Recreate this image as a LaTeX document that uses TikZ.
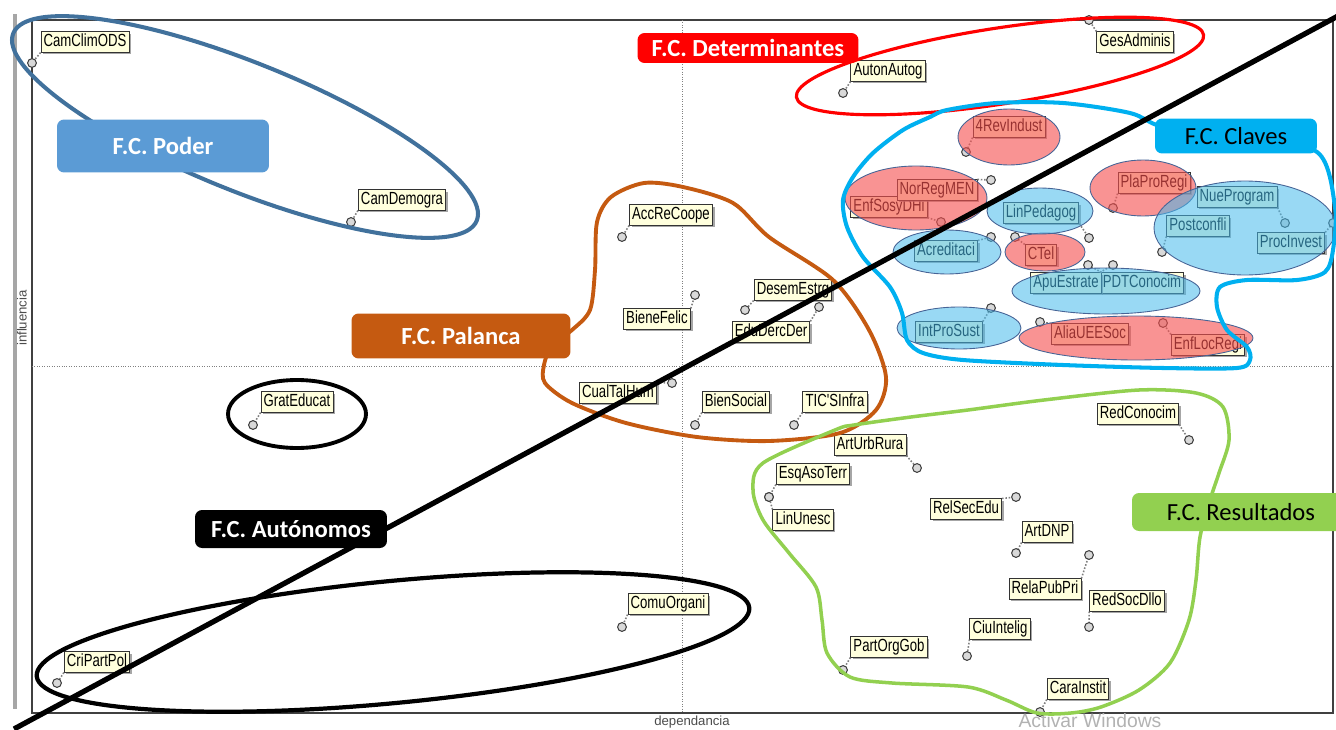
\documentclass[tikz,border=0pt]{standalone}
\usepackage{fontspec}
\setmainfont{Carlito}
\newfontfamily\varfont[FakeStretch=0.75]{Liberation Sans}
\newfontfamily\axfont{Liberation Sans}
\usetikzlibrary{shadows}

\definecolor{podfill}{RGB}{91,155,213}
\definecolor{podline}{RGB}{65,113,156}
\definecolor{detred}{RGB}{255,0,0}
\definecolor{clavcyan}{RGB}{0,176,240}
\definecolor{palbrown}{RGB}{197,90,17}
\definecolor{resgreen}{RGB}{146,208,80}
\definecolor{varcream}{RGB}{255,255,221}
\definecolor{ovred}{RGB}{245,80,80}
\definecolor{ovblue}{RGB}{70,185,235}
\definecolor{ovline}{RGB}{70,100,150}

\begin{document}
\begin{tikzpicture}[x=0.02cm, y=-0.02cm,
  var/.style={draw=black!80, fill=varcream, line width=0.5pt, inner xsep=1.5pt, inner ysep=1pt,
    text height=7.5pt, text depth=2pt, font=\varfont\fontsize{10}{11}\selectfont,
    drop shadow={shadow xshift=1.2pt, shadow yshift=-1.2pt, fill=black!50, opacity=0.7}},
  leader/.style={gray, densely dotted, line width=0.9pt},
  pt/.style={circle, solid, draw=black!75, fill=black!15, line width=0.6pt, inner sep=0pt, minimum size=5pt},
  grp/.style={rounded corners=4pt, inner sep=0pt, font=\fontsize{14}{16}\selectfont},
  grpb/.style={grp, text=white, font=\fontsize{14}{16}\selectfont\bfseries},
  redov/.style={fill=ovred, fill opacity=0.62, draw=ovline, line width=0.5pt},
  blueov/.style={fill=ovblue, fill opacity=0.55, draw=ovline, line width=0.5pt}]
\useasboundingbox (0,0) rectangle (1336,730);

% frame and axes
\draw[gray!70, line width=2pt] (15,14) -- (15,709);
\draw[black!75, line width=0.8pt] (32,20) -- (1333,20) -- (1333,713) -- (32,713) -- cycle;
\draw[gray, densely dotted, line width=0.4pt] (682,20) -- (682,713);
\draw[gray, densely dotted, line width=0.4pt] (32,366) -- (1333,366);
\node[font=\axfont\fontsize{7.5}{8}\selectfont, text=black!70, rotate=90] (yax) at (22,318) {influencia};
\node[font=\axfont\fontsize{7.5}{8}\selectfont, text=black!70] (xax) at (692,722) {dependancia};
\node[font=\axfont\fontsize{11}{12}\selectfont, text=black!30] (wm) at (1090,721) {Activar Windows};

% variables
\node[var] (CamClimODS) at (85,42) {CamClimODS}; \coordinate (CamClimODS-p) at (32,63);
\node[var] (CamDemogra) at (402,200) {CamDemogra}; \coordinate (CamDemogra-p) at (351,222);
\node[var] (AutonAutog) at (888,71) {AutonAutog}; \coordinate (AutonAutog-p) at (843,93);
\node[var] (GesAdminis) at (1135,42) {GesAdminis}; \coordinate (GesAdminis-p) at (1089,20);
\node[var] (4RevIndust) at (1009,127) {4RevIndust}; \coordinate (4RevIndust-p) at (966,152);
\node[var] (EnfSosyDHi) at (889,207) {EnfSosyDHi}; \coordinate (EnfSosyDHi-p) at (941,222);
\node[var] (NorRegMEN) at (937,190) {NorRegMEN}; \coordinate (NorRegMEN-p) at (991,180);
\node[var] (LinPedagog) at (1041,213) {LinPedagog}; \coordinate (LinPedagog-p) at (1089,238);
\node[var] (PlaProRegi) at (1154,183) {PlaProRegi}; \coordinate (PlaProRegi-p) at (1113,208);
\node[var] (NueProgram) at (1237,197) {NueProgram}; \coordinate (NueProgram-p) at (1285,223);
\node[var] (Postconfli) at (1198,226) {Postconfli}; \coordinate (Postconfli-p) at (1162,252);
\node[var] (ProcInvest) at (1291,243) {ProcInvest}; \coordinate (ProcInvest-p) at (1333,223);
\node[var] (Acreditaci) at (946,251) {Acreditaci}; \coordinate (Acreditaci-p) at (991,237);
\node[var] (CTel) at (1041,255) {CTel}; \coordinate (CTel-p) at (1015,237);
\node[var] (PDTConocim) at (1142,283) {PDTConocim}; \coordinate (PDTConocim-p) at (1113,265);
\node[var] (ApuEstrate) at (1066,283) {ApuEstrate}; \coordinate (ApuEstrate-p) at (1088,265);
\node[var] (IntProSust) at (949,332) {IntProSust}; \coordinate (IntProSust-p) at (991,308);
\node[var] (AliaUEESoc) at (1090,334) {AliaUEESoc}; \coordinate (AliaUEESoc-p) at (1040,322);
\node[var] (EnfLocRegi) at (1208,345) {EnfLocRegi}; \coordinate (EnfLocRegi-p) at (1163,323);
\node[var] (AccReCoope) at (671,215) {AccReCoope}; \coordinate (AccReCoope-p) at (622,237);
\node[var] (BieneFelic) at (657,319) {BieneFelic}; \coordinate (BieneFelic-p) at (695,295);
\node[var] (DesemEstrg) at (793,290) {DesemEstrg}; \coordinate (DesemEstrg-p) at (745,310);
\node[var] (EduDercDer) at (771,332) {EduDercDer}; \coordinate (EduDercDer-p) at (819,307);
\node[var] (CualTalHum) at (618,393) {CualTalHum}; \coordinate (CualTalHum-p) at (672,383);
\node[var] (BienSocial) at (736,402) {BienSocial}; \coordinate (BienSocial-p) at (695,425);
\node[var] (TICSInfra) at (835,402) {TIC'SInfra}; \coordinate (TICSInfra-p) at (794,425);
\node[var] (GratEducat) at (297,402) {GratEducat}; \coordinate (GratEducat-p) at (253,425);
\node[var] (CriPartPol) at (97,662) {CriPartPol}; \coordinate (CriPartPol-p) at (57,683);
\node[var] (ComuOrgani) at (668,604) {ComuOrgani}; \coordinate (ComuOrgani-p) at (622,627);
\node[var] (ArtUrbRura) at (870,445) {ArtUrbRura}; \coordinate (ArtUrbRura-p) at (917,468);
\node[var] (EsqAsoTerr) at (813,474) {EsqAsoTerr}; \coordinate (EsqAsoTerr-p) at (769,497);
\node[var] (LinUnesc) at (803,520) {LinUnesc}; \coordinate (LinUnesc-p) at (769,497);
\node[var] (RedConocim) at (1138,414) {RedConocim}; \coordinate (RedConocim-p) at (1189,440);
\node[var] (RelSecEdu) at (966,509) {RelSecEdu}; \coordinate (RelSecEdu-p) at (1016,497);
\node[var] (ArtDNP) at (1047,532) {ArtDNP}; \coordinate (ArtDNP-p) at (1016,553);
\node[var] (RelaPubPri) at (1045,589) {RelaPubPri}; \coordinate (RelaPubPri-p) at (1089,555);
\node[var] (RedSocDllo) at (1127,601) {RedSocDllo}; \coordinate (RedSocDllo-p) at (1089,627);
\node[var] (CiuIntelig) at (1000,629) {CiuIntelig}; \coordinate (CiuIntelig-p) at (967,656);
\node[var] (PartOrgGob) at (889,647) {PartOrgGob}; \coordinate (PartOrgGob-p) at (843,670);
\node[var] (CaraInstit) at (1078,689) {CaraInstit}; \coordinate (CaraInstit-p) at (1040,712);

% leaders to the points
\draw[leader] (CamClimODS.south west) -- (CamClimODS-p) node[pt] {};
\draw[leader] (CamDemogra.south west) -- (CamDemogra-p) node[pt] {};
\draw[leader] (AutonAutog.south west) -- (AutonAutog-p) node[pt] {};
\draw[leader] (GesAdminis.north west) -- (GesAdminis-p) node[pt] {};
\draw[leader] (4RevIndust.south west) -- (4RevIndust-p) node[pt] {};
\draw[leader] (EnfSosyDHi.south east) -- (EnfSosyDHi-p) node[pt] {};
\draw[leader] (NorRegMEN.north east) -- (NorRegMEN-p) node[pt] {};
\draw[leader] (LinPedagog.south east) -- (LinPedagog-p) node[pt] {};
\draw[leader] (PlaProRegi.south west) -- (PlaProRegi-p) node[pt] {};
\draw[leader] (NueProgram.south east) -- (NueProgram-p) node[pt] {};
\draw[leader] (Postconfli.south west) -- (Postconfli-p) node[pt] {};
\draw[leader] (ProcInvest.north east) -- (ProcInvest-p) node[pt] {};
\draw[leader] (Acreditaci.north east) -- (Acreditaci-p) node[pt] {};
\draw[leader] (CTel.north west) -- (CTel-p) node[pt] {};
\draw[leader] (PDTConocim.north west) -- (PDTConocim-p) node[pt] {};
\draw[leader] (ApuEstrate.north east) -- (ApuEstrate-p) node[pt] {};
\draw[leader] (IntProSust.north east) -- (IntProSust-p) node[pt] {};
\draw[leader] (AliaUEESoc.north west) -- (AliaUEESoc-p) node[pt] {};
\draw[leader] (EnfLocRegi.north west) -- (EnfLocRegi-p) node[pt] {};
\draw[leader] (AccReCoope.south west) -- (AccReCoope-p) node[pt] {};
\draw[leader] (BieneFelic.north east) -- (BieneFelic-p) node[pt] {};
\draw[leader] (DesemEstrg.south west) -- (DesemEstrg-p) node[pt] {};
\draw[leader] (EduDercDer.north east) -- (EduDercDer-p) node[pt] {};
\draw[leader] (CualTalHum.north east) -- (CualTalHum-p) node[pt] {};
\draw[leader] (BienSocial.south west) -- (BienSocial-p) node[pt] {};
\draw[leader] (TICSInfra.south west) -- (TICSInfra-p) node[pt] {};
\draw[leader] (GratEducat.south west) -- (GratEducat-p) node[pt] {};
\draw[leader] (CriPartPol.south west) -- (CriPartPol-p) node[pt] {};
\draw[leader] (ComuOrgani.south west) -- (ComuOrgani-p) node[pt] {};
\draw[leader] (ArtUrbRura.south east) -- (ArtUrbRura-p) node[pt] {};
\draw[leader] (EsqAsoTerr.south west) -- (EsqAsoTerr-p) node[pt] {};
\draw[leader] (LinUnesc.north west) -- (LinUnesc-p) node[pt] {};
\draw[leader] (RedConocim.south east) -- (RedConocim-p) node[pt] {};
\draw[leader] (RelSecEdu.north east) -- (RelSecEdu-p) node[pt] {};
\draw[leader] (ArtDNP.south west) -- (ArtDNP-p) node[pt] {};
\draw[leader] (RelaPubPri.north east) -- (RelaPubPri-p) node[pt] {};
\draw[leader] (RedSocDllo.south west) -- (RedSocDllo-p) node[pt] {};
\draw[leader] (CiuIntelig.south west) -- (CiuIntelig-p) node[pt] {};
\draw[leader] (PartOrgGob.south west) -- (PartOrgGob-p) node[pt] {};
\draw[leader] (CaraInstit.south west) -- (CaraInstit-p) node[pt] {};

% shaded sub groups
\draw[redov] (1009,137) circle [x radius=1.02cm, y radius=0.56cm];
\draw[redov] (916,198) circle [x radius=1.42cm, y radius=0.64cm];
\draw[redov] (1143,188) circle [x radius=1.06cm, y radius=0.56cm];
\draw[redov] (1045,252) circle [x radius=0.8cm, y radius=0.38cm];
\draw[redov] (1136,338) circle [x radius=2.34cm, y radius=0.44cm];
\draw[blueov] (1040,211) circle [x radius=1.06cm, y radius=0.46cm];
\draw[blueov] (947,252) circle [x radius=1.08cm, y radius=0.44cm];
\draw[blueov] (1245,228) circle [x radius=1.82cm, y radius=0.94cm];
\draw[blueov] (1106,291) circle [x radius=1.88cm, y radius=0.46cm];
\draw[blueov] (959,328) circle [x radius=1.24cm, y radius=0.42cm];

% group outlines
\draw[podline, line width=2.3pt] (245,127) circle [x radius=5cm, y radius=1.28cm, rotate=-22];
\draw[detred, line width=1.8pt] (1000,66) circle [x radius=4.12cm, y radius=0.76cm, rotate=8.7];
\draw[black, line width=2.2pt] (297,414) circle [x radius=1.38cm, y radius=0.68cm];
\draw[black, line width=2.4pt] (393,642) circle [x radius=7.16cm, y radius=1.22cm, rotate=5.5];
\draw[palbrown, line width=2.2pt] plot[smooth cycle] coordinates {(572,330) (590,310) (595,270)
  (597,222) (611,197) (644,183) (683,187) (733,203) (769,237) (833,280) (869,330) (886,377)
  (876,410) (840,433) (769,441) (697,437) (626,423) (572,403) (545,383) (544,365) (552,345)};
\draw[clavcyan, line width=2.3pt] plot[smooth cycle] coordinates {(947,110) (997,103) (1063,103)
  (1130,113) (1163,127) (1240,140) (1317,152) (1335,207) (1333,250) (1325,272) (1297,280)
  (1247,280) (1220,287) (1217,307) (1227,330) (1247,347) (1250,360) (1237,368) (1163,368)
  (1063,365) (963,360) (923,353) (907,340) (902,313) (890,287) (863,257) (847,227) (843,200)
  (853,177) (873,153) (903,130) (930,117)};
\draw[resgreen, line width=2pt] plot[smooth cycle] coordinates {(835,430) (763,463) (753,490)
  (763,520) (789,553) (816,587) (822,620) (827,653) (850,677) (892,683) (968,687) (1006,700)
  (1037,713) (1071,713) (1101,707) (1139,690) (1170,663) (1189,620) (1196,580) (1200,537)
  (1210,500) (1219,473) (1229,440) (1223,407) (1196,393) (1139,390) (1044,400) (968,410)
  (911,417) (854,425)};

% diagonal
\coordinate (dl) at (14,729);
\coordinate (dr) at (1338,16);
\draw[line width=3pt] (dl) -- (dr);

% group labels
\node[grpb, fill=podfill, minimum width=4.24cm, minimum height=1.06cm] (poder) at (163,146) {F.C. Poder};
\node[grpb, fill=detred, minimum width=4.42cm, minimum height=0.6cm] (determ) at (748,48) {F.C. Determinantes};
\node[grp, fill=clavcyan, minimum width=3.24cm, minimum height=0.7cm] (claves) at (1236,136) {F.C. Claves};
\node[grpb, fill=palbrown, minimum width=4.38cm, minimum height=0.9cm] (palanca) at (461,336) {F.C. Palanca};
\node[grpb, fill=black, minimum width=3.84cm, minimum height=0.76cm] (autonom) at (291,529) {F.C. Autónomos};
\node[grp, fill=resgreen, minimum width=4.36cm, minimum height=0.76cm] (result) at (1241,512) {F.C. Resultados};
\end{tikzpicture}
\end{document}
